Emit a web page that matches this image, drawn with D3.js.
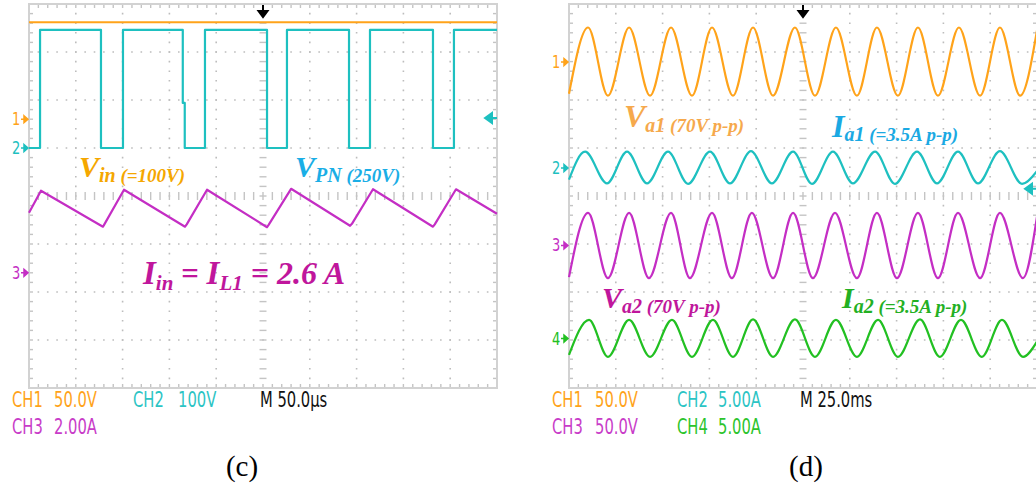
<!DOCTYPE html>
<html>
<head>
<meta charset="utf-8">
<script src="https://cdn.jsdelivr.net/npm/d3@7"></script>
<style>
  body { margin: 0; background: #fff; }
  svg { display: block; }
  .scope { font-family: "DejaVu Sans Condensed", "DejaVu Sans", sans-serif; }
  .note { font-family: "Liberation Serif", "Times New Roman", serif; font-weight: bold; font-style: italic; white-space: pre; }
  .cap { font-family: "Liberation Serif", "Times New Roman", serif; }
</style>
</head>
<body>
<script>
// ---------- panel (c): 50 us/div ----------
const vinTime = [0, 500];
const vinVolt = [101, 101];

const vpnTime = [0, 11.8, 11.8, 76.9, 76.9, 100.4, 100.4, 164.3, 164.3, 166.4, 166.4, 188, 188,
                 254.3, 254.3, 275.6, 275.6, 341.9, 341.9, 364.3, 364.3, 431.6, 431.6, 454, 454, 500];
const vpnVolt = [0, 0, 246, 246, 0, 0, 246, 246, 94, 94, 0, 0, 246,
                 246, 0, 0, 246, 246, 0, 0, 246, 246, 0, 0, 246, 246];

const iinTime = [0, 12.8, 79, 80.5, 101.5, 166.7, 168.5, 190.2, 254.3, 256, 280, 343, 345, 367.5, 431.6, 433.5, 456.2, 500];
const iinAmp = [2.5, 3.42, 1.92, 2.02, 3.46, 1.92, 2.02, 3.46, 1.9, 2.0, 3.5, 1.96, 2.04, 3.48, 1.92, 2.02, 3.48, 2.46];

// ---------- panel (d): 25 ms/div ----------
const va1Time = [0, 10.2, 20.8, 32.1, 43.3, 54.5, 65.7, 76.4, 87.6, 98.3, 109.0, 120.7, 131.4, 142.6,
                 153.8, 164.5, 175.7, 186.4, 197.1, 208.3, 219.6, 230.2, 241.0, 250];
const va1Volt = [-33, 36, -35, 36, -35, 36, -35, 36, -35, 36, -35, 36, -35, 36,
                 -35, 36, -35, 36, -35, 36, -35, 36, -35, 33];

const ia1Time = [0, 8.6, 20.3, 31.0, 41.7, 52.9, 63.6, 75.3, 86.0, 97.2, 108.4, 119.7, 129.8, 141.0,
                 151.7, 163.5, 174.1, 185.9, 196.6, 207.8, 218.5, 230.2, 242.0, 250];
const ia1Amp = [-1.2, 1.7, -1.6, 1.7, -1.6, 1.7, -1.65, 1.7, -1.6, 1.75, -1.6, 1.7, -1.65, 1.7,
                -1.6, 1.7, -1.65, 1.7, -1.6, 1.7, -1.6, 1.75, -1.65, -0.3];

const va2Time = [0, 10.2, 20.8, 32.1, 42.7, 54.5, 64.6, 76.4, 87.0, 97.7, 109.0, 119.7, 130.3, 142.1,
                 153.8, 164.5, 175.2, 186.4, 197.1, 207.8, 219.6, 230.2, 242.5, 250];
const va2Volt = [-33, 34, -34, 34, -34, 34, -34, 34, -34, 34, -34, 34, -34, 34,
                 -34, 34, -34, 34, -34, 34, -34, 34, -34, 30];

const ia2Time = [0, 10.7, 20.8, 32.1, 43.3, 55.0, 65.7, 76.9, 87.6, 98.3, 109.0, 120.7, 131.4, 142.6,
                 153.8, 165.1, 175.7, 187.5, 198.1, 209.4, 220.5, 231.3, 242.5, 250];
const ia2Amp = [-1.7, 1.95, -1.9, 1.95, -1.9, 1.95, -1.9, 1.95, -1.9, 2.0, -1.9, 2.0, -1.9, 1.95,
                -1.9, 1.95, -1.9, 2.0, -1.9, 1.95, -1.9, 1.95, -1.9, -0.3];

const zip = (a, b) => a.map((t, i) => [t, b[i]]);

const orange = "#ffa31a", cyan = "#1ec0c0", magenta = "#c42ec4", green = "#22c022";

const w = 1036, h = 488;
const boxW = 468, boxH = 384, boxTop = 4;

const panels = [
  {
    x0: 29, tMax: 500, caption: "(c)", captionX: 242,
    channels: [
      {id: "1", color: orange, perDiv: 50, offset: 1.6, data: zip(vinTime, vinVolt), curve: d3.curveLinear},
      {id: "2", color: cyan, perDiv: 100, offset: 1.0, data: zip(vpnTime, vpnVolt), curve: d3.curveLinear},
      {id: "3", color: magenta, perDiv: 2, offset: -1.6, data: zip(iinTime, iinAmp), curve: d3.curveLinear}
    ],
    level: {color: cyan, div: 1.625},
    settings: [
      [["CH1", orange, -17], ["50.0V", orange, 25], ["CH2", "#2cc4c4", 104], ["100V", "#2cc4c4", 149], ["M 50.0µs", "#111", 231]],
      [["CH3", "#c83cc8", -17], ["2.00A", "#c83cc8", 25]]
    ]
  },
  {
    x0: 569, tMax: 250, caption: "(d)", captionX: 806,
    channels: [
      {id: "1", color: orange, perDiv: 50, offset: 2.79, data: zip(va1Time, va1Volt), curve: d3.curveMonotoneX},
      {id: "2", color: cyan, perDiv: 5, offset: 0.583, data: zip(ia1Time, ia1Amp), curve: d3.curveMonotoneX},
      {id: "3", color: magenta, perDiv: 50, offset: -1.03, data: zip(va2Time, va2Volt), curve: d3.curveMonotoneX},
      {id: "4", color: green, perDiv: 5, offset: -2.97, data: zip(ia2Time, ia2Amp), curve: d3.curveMonotoneX}
    ],
    level: {color: cyan, div: 0.15},
    settings: [
      [["CH1", orange, -17], ["50.0V", orange, 26], ["CH2", "#2cc4c4", 108], ["5.00A", "#2cc4c4", 149], ["M 25.0ms", "#111", 231]],
      [["CH3", "#c83cc8", -17], ["50.0V", "#c83cc8", 26], ["CH4", "#2cc42c", 108], ["5.00A", "#2cc42c", 149]]
    ]
  }
];

// annotations: [x, y, colour, parts]
const notes = [
  [79, 177, "#f5a700", [["V", 30, 0], ["in", 20, 5], [" (=100V)", 19, 0]]],
  [295, 177, "#1aaee6", [["V", 30, 0], ["PN", 20, 5], [" (250V)", 19, 0]]],
  [143, 284, "#c0169c", [["I", 33, 0], ["in", 21, 6], [" = ", 31, -6], ["I", 33, 0], ["L1", 21, 6], [" = 2.6 A", 32, -6]]],
  [624, 127, "#f6a94c", [["V", 32, 0], ["a1", 20, 5], [" (70V p-p)", 19, 0]]],
  [832, 137, "#1aa9e3", [["I", 32, 0], ["a1", 20, 4], [" (=3.5A p-p)", 19, 0]]],
  [602, 308, "#c0169c", [["V", 30, 0], ["a2", 20, 5], [" (70V p-p)", 19, 0]]],
  [842, 308, "#23b023", [["I", 30, 0], ["a2", 20, 5], [" (=3.5A p-p)", 19, 0]]]
];

const svg = d3.select("body").append("svg").attr("width", w).attr("height", h);

// narrow scope-style text
const scopeText = (g, tx, ty, size, col, s, sx) => g.append("text").attr("class", "scope")
  .attr("transform", `translate(${tx},${ty}) scale(${sx},1)`)
  .attr("font-size", size).attr("fill", col).text(s);

panels.forEach(p => {
  const g = svg.append("g");
  const x = d3.scaleLinear().domain([0, p.tMax]).range([p.x0, p.x0 + boxW]);
  const y = d3.scaleLinear().domain([-4, 4]).range([boxTop + boxH, boxTop]);
  const xc = x(p.tMax / 2), yc = y(0);

  // dotted graticule
  const majorT = d3.range(1, 10).filter(i => i !== 5).map(i => p.tMax * i / 10);
  const majorD = [-3, -2, -1, 1, 2, 3];
  g.selectAll(".vgrid").data(majorT).enter().append("line")
    .attr("x1", d => x(d)).attr("x2", d => x(d)).attr("y1", boxTop).attr("y2", boxTop + boxH)
    .attr("stroke", "#bdbdbd").attr("stroke-width", 1.6)
    .attr("stroke-dasharray", `1.6 ${boxH / 40 - 1.6}`).attr("stroke-dashoffset", 0.8);
  g.selectAll(".hgrid").data(majorD).enter().append("line")
    .attr("x1", p.x0).attr("x2", p.x0 + boxW).attr("y1", d => y(d)).attr("y2", d => y(d))
    .attr("stroke", "#bdbdbd").attr("stroke-width", 1.6)
    .attr("stroke-dasharray", `1.6 ${boxW / 50 - 1.6}`).attr("stroke-dashoffset", 0.8);

  // minor ticks on border and centre lines
  const minorT = d3.range(1, 50).map(i => p.tMax * i / 50);
  const minorD = d3.range(1, 40).map(i => -4 + i * 0.2);
  const tick = (x1, y1, x2, y2) => g.append("line")
    .attr("x1", x1).attr("y1", y1).attr("x2", x2).attr("y2", y2)
    .attr("stroke", "#c4c4c4").attr("stroke-width", 1.4);
  minorT.forEach(t => {
    tick(x(t), boxTop, x(t), boxTop + 4);
    tick(x(t), boxTop + boxH, x(t), boxTop + boxH - 4);
    tick(x(t), yc - 4, x(t), yc + 4);
  });
  minorD.forEach(d => {
    tick(p.x0, y(d), p.x0 + 4, y(d));
    tick(p.x0 + boxW, y(d), p.x0 + boxW - 4, y(d));
    tick(xc - 3.5, y(d), xc + 3.5, y(d));
  });

  g.append("rect")
    .attr("x", p.x0).attr("y", boxTop).attr("width", boxW).attr("height", boxH)
    .attr("fill", "none").attr("stroke", "#d2d2d2").attr("stroke-width", 2);

  // traces
  p.channels.forEach(ch => {
    const line = d3.line()
      .x(d => x(d[0]))
      .y(d => y(ch.offset + d[1] / ch.perDiv))
      .curve(ch.curve);
    g.append("path").datum(ch.data)
      .attr("d", line).attr("fill", "none")
      .attr("stroke", ch.color).attr("stroke-width", 2.2)
      .attr("stroke-linejoin", "round");

    // ground marker on the left
    const my = y(ch.offset);
    scopeText(g, p.x0 - 17, my + 6, 17, ch.color, ch.id, 0.85);
    g.append("path")
      .attr("d", `M${p.x0 - 8},${my}H${p.x0 - 4}M${p.x0 - 5},${my - 3.5}L${p.x0 - 1},${my}L${p.x0 - 5},${my + 3.5}Z`)
      .attr("stroke", ch.color).attr("stroke-width", 1.5).attr("fill", ch.color);
  });

  // trigger position arrow
  g.append("path")
    .attr("d", `M${xc},5V12M${xc - 4.5},11L${xc + 4.5},11L${xc},17Z`)
    .attr("stroke", "#000").attr("stroke-width", 2).attr("fill", "#000");

  // trigger level arrow
  const ly = y(p.level.div), lx = p.x0 + boxW - 12;
  g.append("path")
    .attr("d", `M${lx},${ly}L${lx + 7},${ly - 5}L${lx + 7},${ly + 5}Z M${lx + 6},${ly}H${lx + 12}`)
    .attr("stroke", p.level.color).attr("stroke-width", 2).attr("fill", p.level.color);

  // channel settings
  p.settings.forEach((row, r) => {
    row.forEach(([txt, col, dx]) => {
      scopeText(g, p.x0 + dx, boxTop + boxH + 19 + r * 27, 20.5, col, txt, 0.8);
    });
  });

  g.append("text").attr("class", "cap")
    .attr("x", p.captionX).attr("y", 476).attr("text-anchor", "middle")
    .attr("font-size", 29).attr("fill", "#000").text(p.caption);
});

notes.forEach(([nx, ny, col, parts]) => {
  const t = svg.append("text").attr("class", "note")
    .attr("x", nx).attr("y", ny).attr("fill", col);
  parts.forEach(([s, size, dy]) => {
    t.append("tspan").attr("font-size", size).attr("dy", dy).text(s);
  });
});
</script>
</body>
</html>
